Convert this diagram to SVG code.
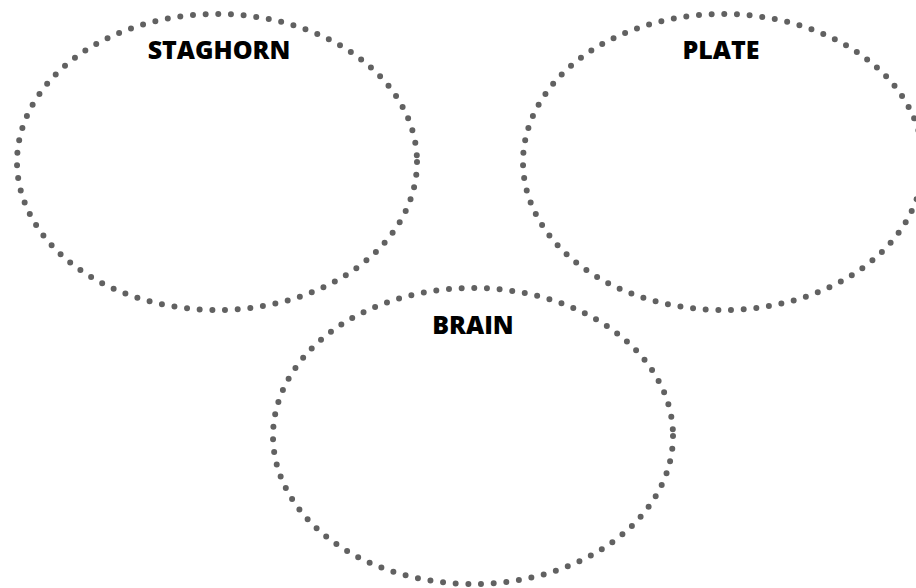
<svg xmlns="http://www.w3.org/2000/svg" width="916" height="588" viewBox="0 0 916 588">
<style>
.ring{fill:none;stroke:#616161;stroke-width:6;stroke-linecap:round;stroke-dasharray:0 12.7}
.lbl{font-family:"Open Sans","Noto Sans","DejaVu Sans",sans-serif;font-weight:800;font-size:25px;fill:#000;text-anchor:middle}
</style>
<rect width="916" height="588" fill="#fff"/>
<g id="staghorn">
<ellipse class="ring" cx="217" cy="162" rx="200" ry="148"/>
<text class="lbl" x="219" y="59">STAGHORN</text>
</g>
<g id="plate">
<ellipse class="ring" cx="723" cy="162" rx="200" ry="148"/>
<text class="lbl" x="721" y="59">PLATE</text>
</g>
<g id="brain">
<ellipse class="ring" cx="473" cy="436" rx="200" ry="148"/>
<text class="lbl" x="473" y="334">BRAIN</text>
</g>
<g id="connectors"/>
</svg>
